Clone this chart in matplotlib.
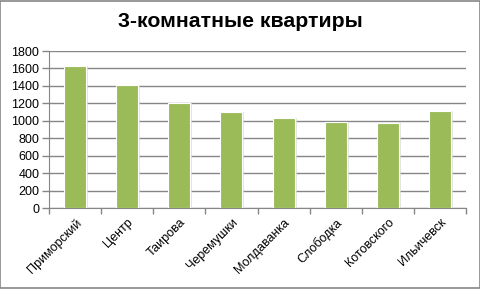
import matplotlib
matplotlib.use("Agg")
import matplotlib.pyplot as plt
from matplotlib.patches import Rectangle
import numpy as np

plt.rcParams['font.family'] = ['Liberation Sans', 'DejaVu Sans']

districts = ["Приморский", "Центр", "Таирова", "Черемушки", "Молдаванка",
             "Слободка", "Котовского", "Ильичевск"]
prices = [1630, 1410, 1205, 1105, 1035, 990, 978, 1115]
yticks = [0, 200, 400, 600, 800, 1000, 1200, 1400, 1600, 1800]
title = "3-комнатные квартиры"

fig = plt.figure(figsize=(4.81, 2.89), dpi=100)
fig.patches.append(Rectangle((0.001, 0.002), 0.996, 0.995, transform=fig.transFigure,
                             fill=False, edgecolor='#868686', linewidth=1.2))
ax = fig.add_axes([0.1019, 0.280, 0.8669, 0.5435])

x = np.arange(len(districts))
grid_c = '#868686'
# soft shadow behind bars
ax.bar(x + 0.03, prices, width=0.44, color='#d9d9d9', zorder=2, alpha=0.7)
ax.bar(x, prices, width=0.42, color='#9bbb59', edgecolor='white', linewidth=0.8, zorder=3)

ax.set_xlim(-0.5, len(districts) - 0.5)
ax.set_ylim(0, 1800)
ax.set_yticks(yticks)
ax.set_yticklabels([str(v) for v in yticks], fontsize=9)
ax.yaxis.grid(True, color=grid_c, linewidth=1)
ax.set_axisbelow(True)

ax.set_xticks(x)
ax.set_xticklabels(districts, fontsize=9, rotation=45, ha='right', rotation_mode='anchor')
ax.set_xticks(np.arange(-0.5, len(districts)), minor=True)
ax.tick_params(axis='x', which='major', length=0, pad=6)
ax.tick_params(axis='x', which='minor', length=4, color=grid_c, width=1)
ax.tick_params(axis='y', length=5, color=grid_c, width=1, pad=2)

for side in ['top', 'right']:
    ax.spines[side].set_visible(False)
ax.spines['left'].set_color(grid_c)
ax.spines['bottom'].set_color(grid_c)

fig.text(0.5, 0.925, title, ha='center', va='center', fontsize=15.3, fontweight='bold')

fig.savefig("out.png", dpi=100)
